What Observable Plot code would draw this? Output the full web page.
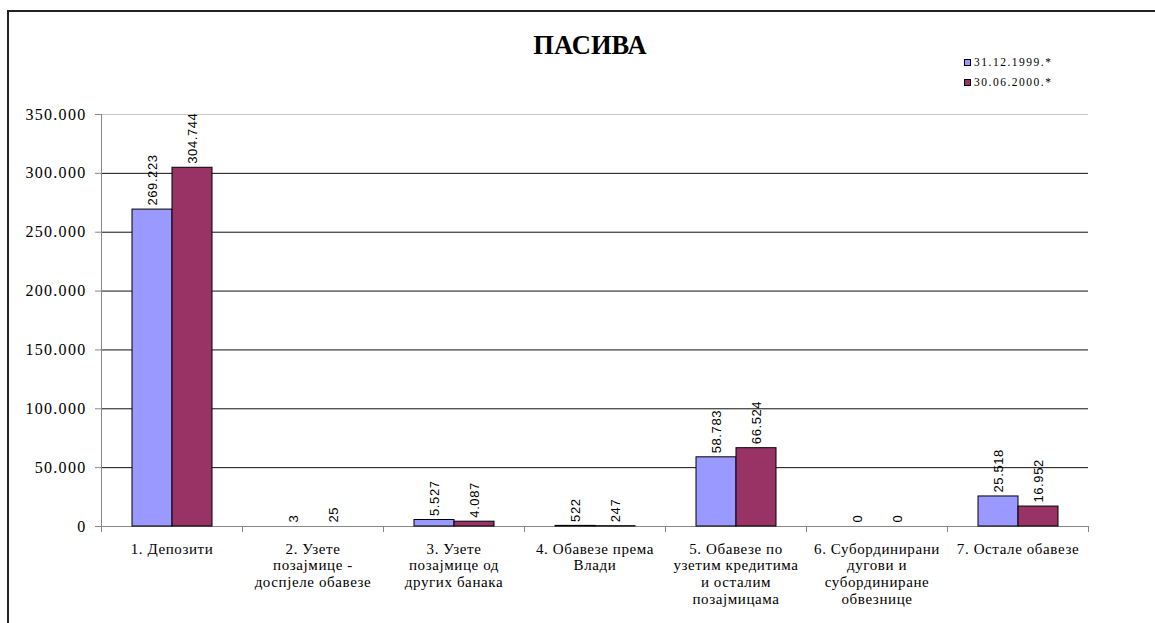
<!DOCTYPE html>
<html><head><meta charset="utf-8">
<script src="https://cdn.jsdelivr.net/npm/d3@7"></script>
<script src="https://cdn.jsdelivr.net/npm/@observablehq/plot@0.6"></script>
<style>
body{margin:0;background:#fff;}
#wrap{position:relative;width:1155px;height:623px;overflow:hidden;font-family:"Liberation Serif","Times New Roman",serif;color:#000;}
#frame{position:absolute;left:7px;top:10px;width:1200px;height:700px;border-top:2px solid #222;border-left:2px solid #222;pointer-events:none;}
#head{position:relative;height:100px;}
#title{position:absolute;left:0;width:1180px;top:30px;text-align:center;font-weight:bold;font-size:26.5px;line-height:30px;}
#legend{position:absolute;left:964px;top:52px;font-size:11.5px;letter-spacing:1.5px;font-family:"Liberation Serif",serif;}
.item{display:flex;align-items:center;height:20px;white-space:nowrap;}
.sw{width:5px;height:5px;border:1px solid #000;margin-right:3px;}
#chart svg{display:block;font-family:"Liberation Serif","Times New Roman",serif !important;}
#chart g[aria-label="y-axis tick label"]{letter-spacing:1.3px;}
#chart g[aria-label="fx-axis tick label"]{letter-spacing:0.6px;}
#chart g[aria-label="text"]{letter-spacing:0.6px;}
</style></head><body>
<div id="wrap"><div id="frame"></div><div id="head"><div id="title">ПАСИВА</div><div id="legend"></div></div><div id="chart"></div></div>
<script>
const categories = [
  "1. Депозити",
  "2. Узете\nпозајмице -\nдоспјеле обавезе",
  "3. Узете\nпозајмице од\nдругих банака",
  "4. Обавезе према\nВлади",
  "5. Обавезе по\nузетим кредитима\nи осталим\nпозајмицама",
  "6. Субординирани\nдугови и\nсубординиране\nобвезнице",
  "7. Остале обавезе"
];
const seriesNames = ["31.12.1999.*", "30.06.2000.*"];
const values1999 = [269223, 3, 5527, 522, 58783, 0, 25518];
const values2000 = [304744, 25, 4087, 247, 66524, 0, 16952];
const seriesColors = ["#9999FF", "#993366"];
const yTicks = [0, 50000, 100000, 150000, 200000, 250000, 300000, 350000];

const data = categories.flatMap((c, i) => [
  {cat: c, series: seriesNames[0], value: values1999[i]},
  {cat: c, series: seriesNames[1], value: values2000[i]}
]);
const fmt = v => d3.format(",")(v).replace(/,/g, ".");

const legend = document.getElementById("legend");
seriesNames.forEach((s, i) => {
  const it = document.createElement("div");
  it.className = "item";
  const sw = document.createElement("span");
  sw.className = "sw";
  sw.style.background = seriesColors[i];
  const t = document.createElement("span");
  t.textContent = s;
  it.append(sw, t);
  legend.append(it);
});

const serif = "'Liberation Serif','Times New Roman',serif";
const H = 523, MT = 14, MB = 97;
const chart = Plot.plot({
  width: 1155, height: H,
  marginLeft: 99, marginRight: 65, marginTop: MT, marginBottom: MB,
  fx: {domain: categories, paddingInner: 0, paddingOuter: 0, label: null},
  x: {domain: seriesNames, paddingInner: 0, paddingOuter: 0.727, axis: null},
  y: {domain: [0, 350000], label: null},
  color: {domain: seriesNames, range: seriesColors},
  style: {background: "transparent", overflow: "visible"},
  marks: [
    Plot.gridY(yTicks.slice(1, -1), {stroke: "#111", strokeOpacity: 1}),
    Plot.ruleY([350000], {stroke: "#c8c8c8"}),
    Plot.ruleY([0], {stroke: "#888"}),
    Plot.frame({anchor: "left", stroke: "#888", facetAnchor: "left"}),
    Plot.frame({anchor: "left", stroke: "#888", insetTop: H - MT - MB, insetBottom: -5}),
    Plot.frame({anchor: "right", stroke: "#888", insetTop: H - MT - MB, insetBottom: -5, facetAnchor: "right"}),
    Plot.axisY({ticks: yTicks, tickSize: 6, tickPadding: 9, tickFormat: fmt, fontSize: 16, fontFamily: serif, label: null, stroke: "#888"}),
    Plot.axisFx({anchor: "bottom", tickSize: 0, tickPadding: 15, fontSize: 15, fontFamily: serif, lineHeight: 1.13, label: null}),
    Plot.barY(data, {fx: "cat", x: "series", y: "value", fill: "series", stroke: "#000", strokeWidth: 1, filter: d => d.value > 100}),
    Plot.text(data, {fx: "cat", x: "series", y: "value", text: d => fmt(d.value), rotate: -90, textAnchor: "start", dy: -4, fontSize: 13, fontFamily: "'Liberation Sans',Arial,sans-serif", fill: "#000"})
  ]
});
document.getElementById("chart").append(chart);
</script>
</body></html>
